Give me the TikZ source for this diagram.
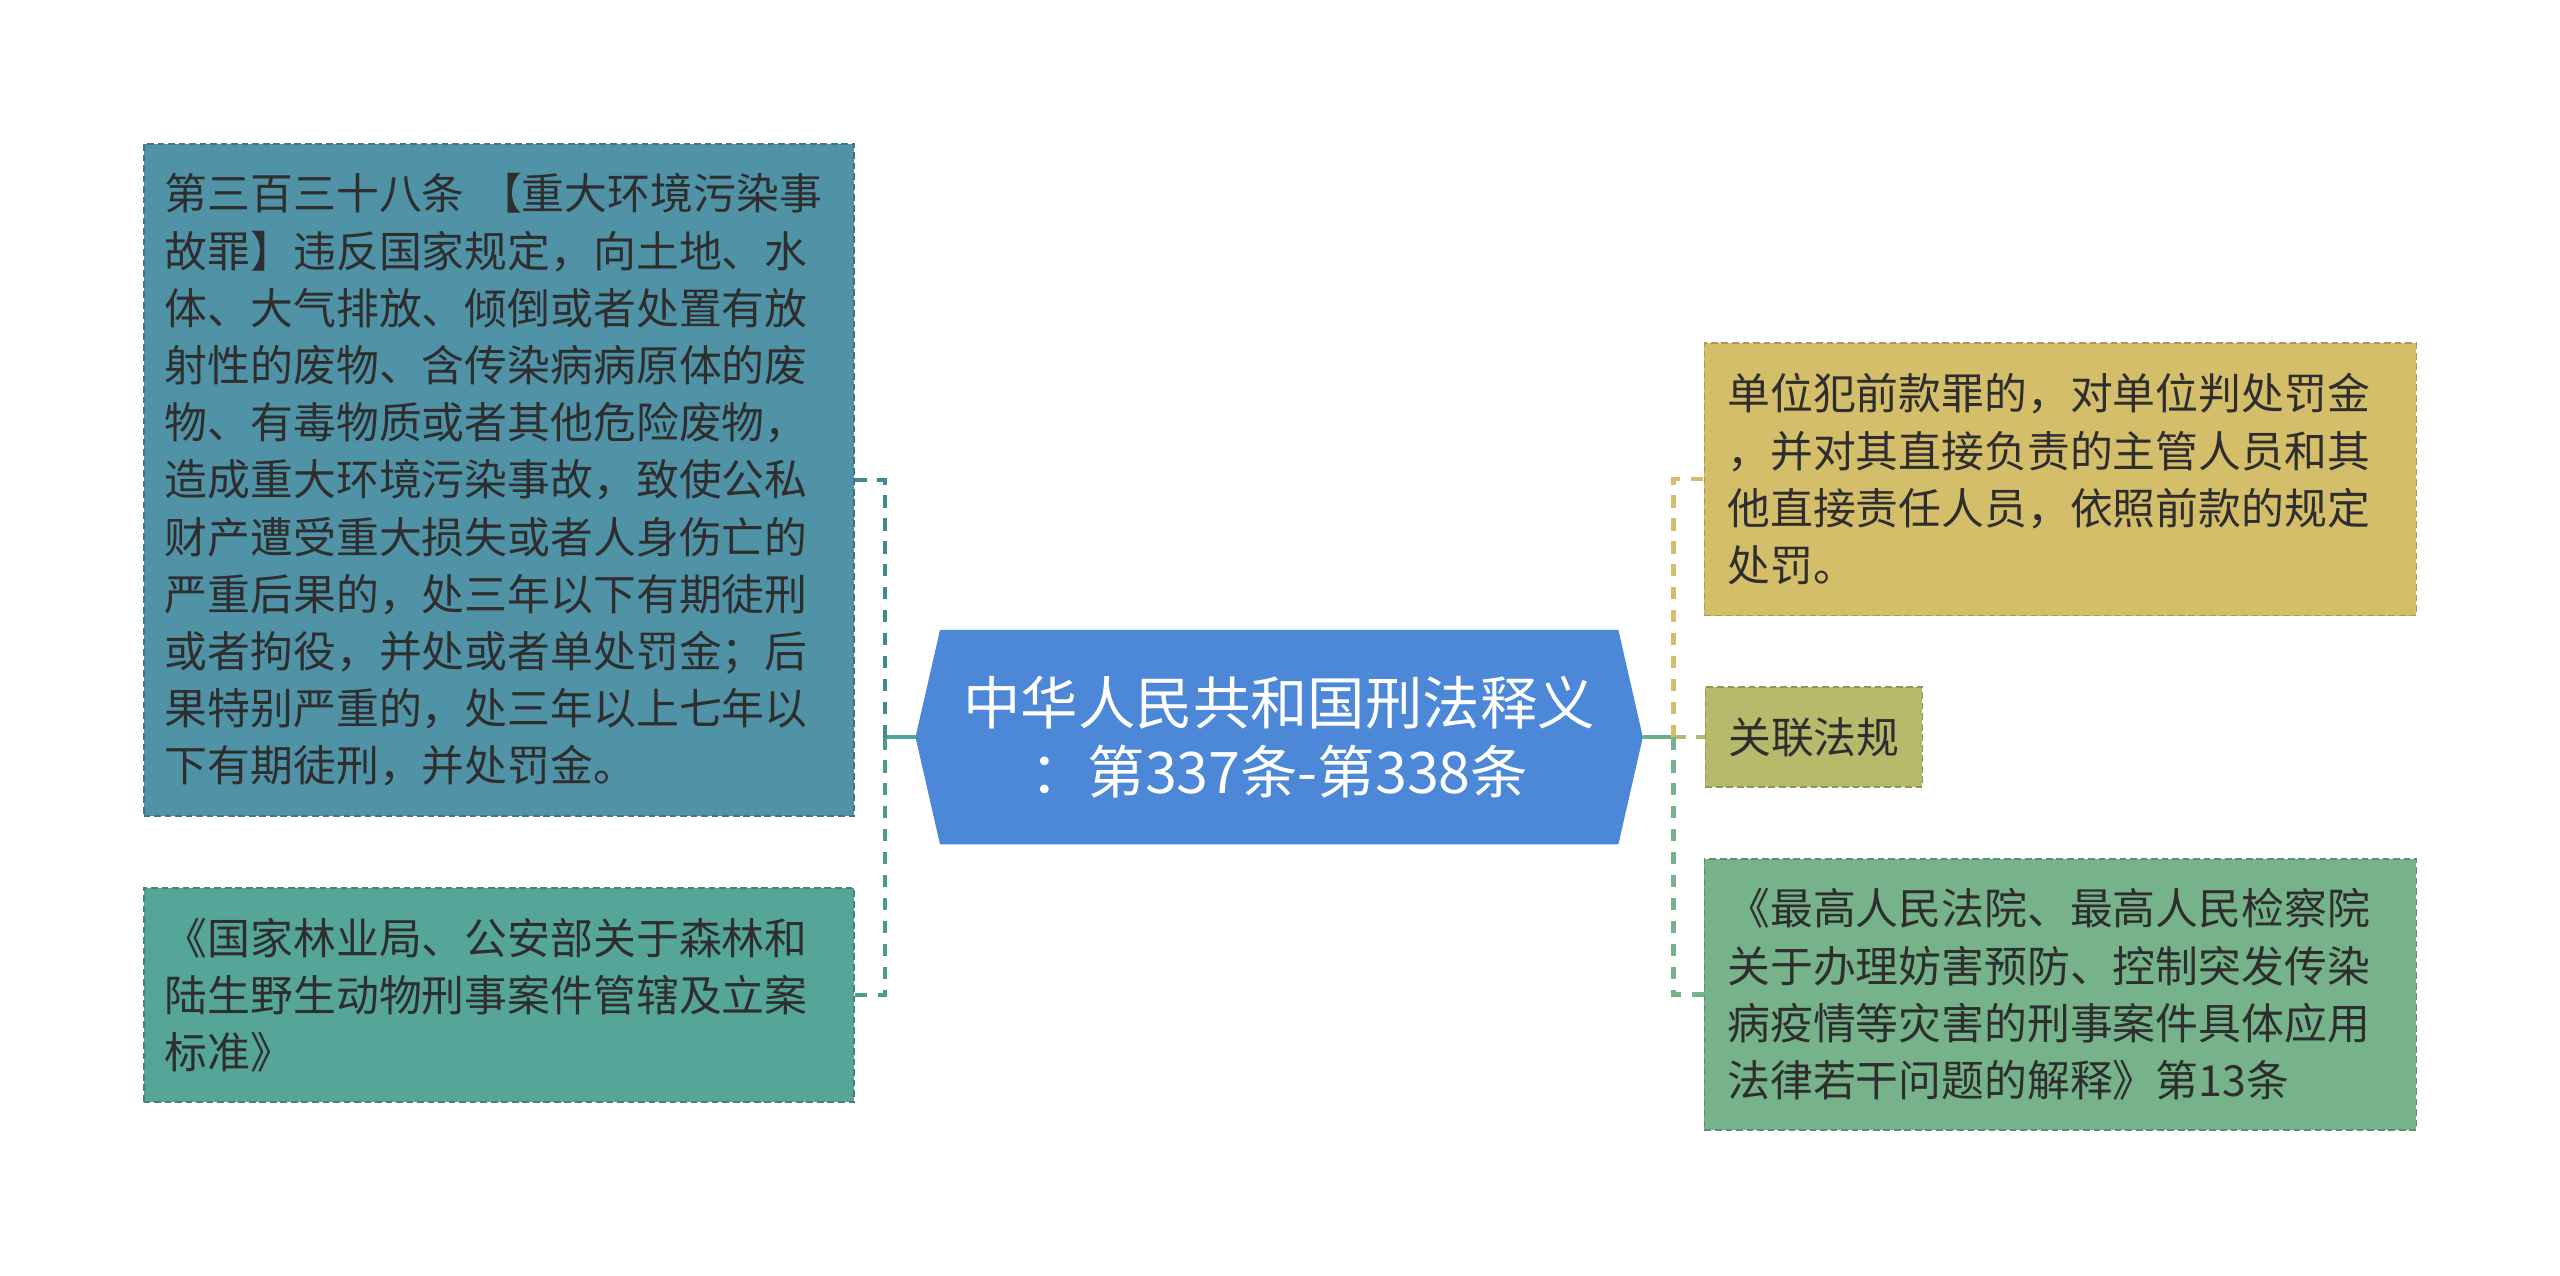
\documentclass[tikz,border=0pt]{standalone}
\usepackage{fontspec}
\setmainfont{Noto Sans CJK SC}
\usetikzlibrary{backgrounds}
\definecolor{cLone}{HTML}{5092A6}
\definecolor{cLtwo}{HTML}{55A598}
\definecolor{cRoot}{HTML}{4C87D8}
\definecolor{cRone}{HTML}{D4BE6A}
\definecolor{cRtwo}{HTML}{B6BA6A}
\definecolor{cRthree}{HTML}{76B28A}
\definecolor{cTxt}{HTML}{2E2E2E}
\definecolor{cEdgeLone}{HTML}{3F8A96}
\definecolor{cEdgeLtwo}{HTML}{4A9A8E}
\definecolor{cTrunkL}{HTML}{4FA39A}
\definecolor{cTrunkR}{HTML}{6AAE88}
\begin{document}
\begin{tikzpicture}[x=0.03cm,y=-0.03cm,
  bodyfont/.style={font=\fontsize{22.4pt}{29.9pt}\selectfont},
  leafbox/.style={bodyfont, text=cTxt, align=left, inner ysep=0pt,
    line width=0.9pt, dash pattern=on 3.5pt off 2pt},
  bigleft/.style={leafbox, inner xsep=0.39cm, text width=12.27cm},
  bigright/.style={leafbox, inner xsep=0.42cm, text width=12.24cm},
  rootnode/.style={text=white, align=center, inner sep=0pt,
    minimum width=13.35cm, minimum height=3.93cm,
    font=\fontsize{30pt}{35.9pt}\selectfont},
  trunk/.style={line width=2.3pt},
  branchline/.style={line width=2.3pt, dash pattern=on 6.5pt off 5.5pt}
]
\useasboundingbox (0,0) rectangle (1568,781);

% root
\node[rootnode] (root) at (783.5,451.5) {中华人民共和国刑法释义\\：第337条-第338条};
\begin{scope}[on background layer]
\fill[white] (0,0) rectangle (1568,781);
\fill[cRoot] (root.west) -- ([xshift=0.45cm]root.north west) -- ([xshift=-0.45cm]root.north east)
  -- (root.east) -- ([xshift=-0.45cm]root.south east) -- ([xshift=0.45cm]root.south west) -- cycle;
\end{scope}

% left leaves
\node[bigleft, fill=cLone, draw=cLone!80!black, minimum height=12.36cm] (L1) at (305.5,294) {第三百三十八条 【重大环境污染事\\
故罪】违反国家规定，向土地、水\\
体、大气排放、倾倒或者处置有放\\
射性的废物、含传染病病原体的废\\
物、有毒物质或者其他危险废物，\\
造成重大环境污染事故，致使公私\\
财产遭受重大损失或者人身伤亡的\\
严重后果的，处三年以下有期徒刑\\
或者拘役，并处或者单处罚金；后\\
果特别严重的，处三年以上七年以\\
下有期徒刑，并处罚金。};

\node[bigleft, fill=cLtwo, draw=cLtwo!80!black, minimum height=3.93cm] (L2) at (305.5,609.5) {《国家林业局、公安部关于森林和\\
陆生野生动物刑事案件管辖及立案\\
标准》};

% right leaves
\node[bigright, fill=cRone, draw=cRone!80!black, minimum height=5.01cm] (R1) at (1262,293.5) {单位犯前款罪的，对单位判处罚金\\
，并对其直接负责的主管人员和其\\
他直接责任人员，依照前款的规定\\
处罚。};

\node[leafbox, inner xsep=0.42cm, fill=cRtwo, draw=cRtwo!80!black, minimum height=1.83cm, anchor=west] (R2) at (1044,451.5) {关联法规};

\node[bigright, fill=cRthree, draw=cRthree!80!black, minimum height=4.98cm] (R3) at (1262,609) {《最高人民法院、最高人民检察院\\
关于办理妨害预防、控制突发传染\\
病疫情等灾害的刑事案件具体应用\\
法律若干问题的解释》第13条};

% connectors
\coordinate (lj) at (542,451.5);
\coordinate (rj) at (1025,451.5);
\draw[trunk, cTrunkL] (root.west) -- (lj);
\draw[branchline, cEdgeLone] (lj) |- (L1.east);
\draw[branchline, cEdgeLtwo] (lj) |- (L2.east);
\draw[trunk, cTrunkR] (root.east) -- (rj);
\draw[branchline, cRone] (rj) |- (R1.west);
\draw[branchline, cRtwo] (rj) -- (R2.west);
\draw[branchline, cRthree] (rj) |- (R3.west);
\end{tikzpicture}
\end{document}
